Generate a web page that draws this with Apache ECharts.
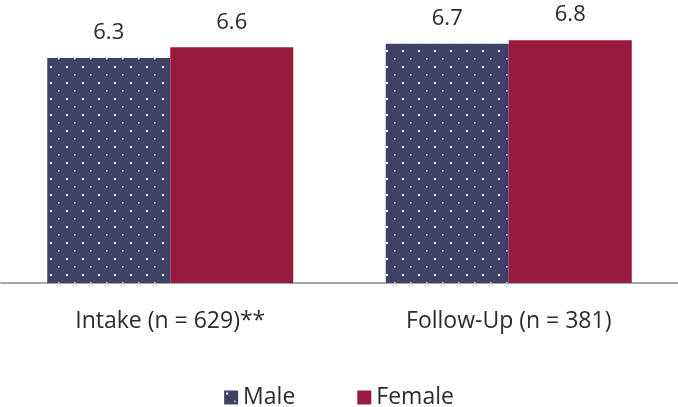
<!DOCTYPE html>
<html>
<head>
<meta charset="utf-8">
<script src="https://cdn.jsdelivr.net/npm/echarts@6/dist/echarts.min.js"></script>
<style>
  html, body { margin: 0; padding: 0; background: #fff; }
  #chart { width: 678px; height: 407px; }
</style>
</head>
<body>
<div id="chart"></div>
<script>
const categories = ['Intake (n = 629)**', 'Follow-Up (n = 381)'];
const seriesNames = ['Male', 'Female'];
const maleValues = [6.3, 6.7];
const femaleValues = [6.6, 6.8];

// Navy fill with a staggered grid of small white dots
function dottedPattern() {
  const c = document.createElement('canvas');
  c.width = 16; c.height = 16;
  const g = c.getContext('2d');
  g.fillStyle = '#3f4167';
  g.fillRect(0, 0, 16, 16);
  g.fillStyle = '#ffffff';
  g.fillRect(2, 2, 2, 2);
  g.globalAlpha = 0.85;
  g.fillRect(10, 10, 1.5, 1.5);
  return { image: c, repeat: 'repeat' };
}

const chart = echarts.init(document.getElementById('chart'));
const font = '"Open Sans", "Noto Sans", sans-serif';
const textColor = '#2b2b2b';

const valueLabel = {
  show: true, position: 'top', distance: 14,
  fontFamily: font, fontSize: 22, color: textColor,
  formatter: p => p.value.toFixed(1)
};

chart.setOption({
  animation: false,
  grid: { left: 1, right: 0, top: 33, bottom: 124 },
  legend: {
    data: seriesNames,
    top: 381,
    left: 'center',
    itemWidth: 14,
    itemHeight: 14,
    itemGap: 62,
    icon: 'rect',
    textStyle: { fontFamily: font, fontSize: 23, color: textColor }
  },
  xAxis: {
    type: 'category',
    data: categories,
    axisTick: { show: false },
    axisLine: { lineStyle: { color: '#a6a6a6', width: 2 } },
    axisLabel: { fontFamily: font, fontSize: 23, color: textColor, margin: 27 }
  },
  yAxis: { type: 'value', min: 0, max: 7, show: false, splitLine: { show: false } },
  series: [
    {
      name: seriesNames[0],
      type: 'bar',
      data: maleValues,
      barWidth: 123,
      barGap: '0%',
      itemStyle: { color: dottedPattern() },
      label: valueLabel
    },
    {
      name: seriesNames[1],
      type: 'bar',
      data: femaleValues,
      barWidth: 123,
      barGap: '0%',
      itemStyle: { color: '#981a3e' },
      label: valueLabel
    }
  ]
});
</script>
</body>
</html>
